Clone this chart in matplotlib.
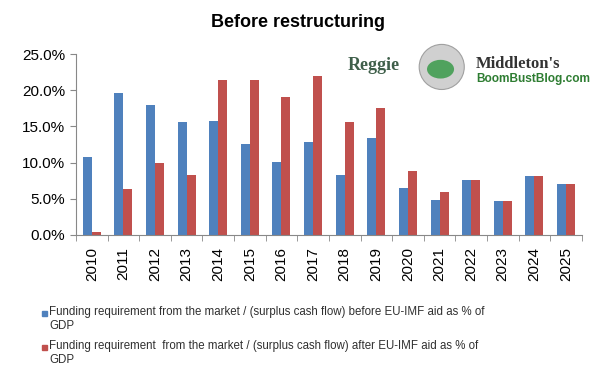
"""Before restructuring: funding requirement as % of GDP, before and after EU-IMF aid."""

import matplotlib
matplotlib.use("Agg")
import matplotlib.pyplot as plt
from matplotlib.patches import Ellipse, Rectangle
import numpy as np

plt.rcParams["font.family"] = ["Liberation Sans", "DejaVu Sans"]

YEARS = [str(y) for y in range(2010, 2026)]
BEFORE_AID = [10.8, 19.6, 18.0, 15.6, 15.8, 12.5, 10.1, 12.9,
              8.3, 13.4, 6.5, 4.8, 7.6, 4.7, 8.1, 7.1]
AFTER_AID = [0.4, 6.3, 10.0, 8.3, 21.4, 21.4, 19.1, 21.9,
             15.6, 17.6, 8.8, 5.9, 7.6, 4.7, 8.1, 7.1]
LABEL_BEFORE = "Funding requirement from the market / (surplus cash flow) before EU-IMF aid as % of\nGDP"
LABEL_AFTER = "Funding requirement  from the market / (surplus cash flow) after EU-IMF aid as % of\nGDP"

BLUE = "#4F81BD"
RED = "#C0504D"
TEXT = "#303030"

fig = plt.figure(figsize=(6.01, 3.74), dpi=100)
ax = fig.add_axes([0.1265, 0.3717, 0.8415, 0.4839])

x = np.arange(len(YEARS))
w = 0.285
ax.bar(x - w / 2, BEFORE_AID, width=w, color=BLUE)
ax.bar(x + w / 2, AFTER_AID, width=w, color=RED)

ax.set_xlim(-0.5, len(YEARS) - 0.5)
ax.set_ylim(0, 25)
yt = np.arange(0, 25.1, 5)
ax.set_yticks(yt)
ax.set_yticklabels([f"{v:.1f}%" for v in yt], fontsize=11)
ax.set_xticks(x)
ax.set_xticklabels(YEARS, rotation=90, fontsize=11)
ax.set_xticks(np.arange(-0.5, len(YEARS), 1), minor=True)
ax.tick_params(axis="x", which="major", length=0, pad=9)
ax.tick_params(axis="x", which="minor", length=4, color="#888888", direction="out")
ax.tick_params(axis="y", length=4, color="#888888", direction="out", pad=4)

for side in ("top", "right"):
    ax.spines[side].set_visible(False)
for side in ("left", "bottom"):
    ax.spines[side].set_color("#888888")
    ax.spines[side].set_linewidth(0.8)

fig.text(0.496, 0.94, "Before restructuring", ha="center", va="center",
         fontsize=13, fontweight="bold")

# legend below the axes, marker level with the first text line
for (label, color, y0) in [(LABEL_BEFORE, BLUE, 313), (LABEL_AFTER, RED, 347)]:
    yf = 1 - y0 / 374
    fig.patches.append(Rectangle((42 / 601, yf - 2.5 / 374), 5 / 601, 5 / 374,
                                 transform=fig.transFigure, color=color))
    fig.text(49 / 601, yf + 7 / 374, label, fontsize=8.3, color=TEXT,
             ha="left", va="top", linespacing=1.2)

# logo watermark
fig.text(0.578, 0.826, "Reggie", fontsize=13, family="Liberation Serif",
         color="#3f5f4a", fontweight="bold", ha="left", va="center")
fig.text(0.792, 0.83, "Middleton's", fontsize=12, family="Liberation Serif",
         color="#333333", fontweight="bold", ha="left", va="center")
fig.text(0.792, 0.79, "BoomBustBlog.com", fontsize=8.6, color="#2e7d32",
         fontweight="bold", ha="left", va="center")
globe = Ellipse((0.735, 0.821), 0.075, 0.075 * 601 / 374, transform=fig.transFigure,
                facecolor="#d0d0d0", edgecolor="#a0a0a0", lw=0.8)
land = Ellipse((0.733, 0.815), 0.045, 0.05, transform=fig.transFigure,
               facecolor="#3a9a4a", edgecolor="none", alpha=0.85)
fig.patches.extend([globe, land])

fig.savefig("out.png", dpi=100)
